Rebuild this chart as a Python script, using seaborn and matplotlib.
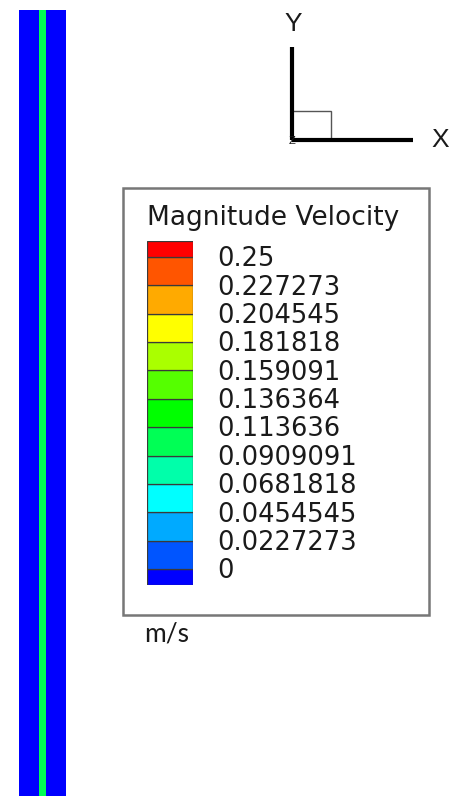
import numpy as np
import matplotlib
matplotlib.use("Agg")
import matplotlib.pyplot as plt
from matplotlib.patches import Rectangle
import seaborn as sns

# ---------------- data ----------------
level_values = [0.0, 0.0227273, 0.0454545, 0.0681818, 0.0909091, 0.113636,
                0.136364, 0.159091, 0.181818, 0.204545, 0.227273, 0.25]
level_labels = ["0", "0.0227273", "0.0454545", "0.0681818", "0.0909091", "0.113636",
                "0.136364", "0.159091", "0.181818", "0.204545", "0.227273", "0.25"]
# contour band colours, bottom (lowest) to top (highest)
level_colors = ["#0000FF", "#0055FF", "#00AAFF", "#00FFFF", "#00FFAA", "#00FF55",
                "#00FF00", "#55FF00", "#AAFF00", "#FFFF00", "#FFAA00", "#FF5500", "#FF0000"]
# velocity magnitude across the pipe width (m/s)
pipe_profile = [0, 0, 0, 0, 0, 0.11, 0.11, 0, 0, 0, 0, 0]
legend_title = "Magnitude Velocity"
unit_label = "m/s"
axis_names = ["X", "Y", "Z"]

# ---------------- style ----------------
sns.set_style("white")
plt.rcParams["font.family"] = ["DejaVu Sans"]

W, H = 458, 796
fig = plt.figure(figsize=(W / 100, H / 100), dpi=100)


def px_axes(x0, y0, x1, y1):
    return fig.add_axes([x0 / W, 1 - y1 / H, (x1 - x0) / W, (y1 - y0) / H])


# overlay axes in pixel coordinates for annotations
ov = fig.add_axes([0, 0, 1, 1])
ov.set_xlim(0, W)
ov.set_ylim(H, 0)
ov.axis("off")

# ---------------- pipe contour (heatmap) ----------------
step = level_values[1] - level_values[0]
pax = px_axes(19, 10, 66, 796)
field = np.tile(np.array(pipe_profile, dtype=float), (40, 1))
band_index = np.clip(np.round(field / step), 0, len(level_colors) - 1)
sns.heatmap(band_index, ax=pax, cmap=matplotlib.colors.ListedColormap(level_colors),
            vmin=-0.5, vmax=len(level_colors) - 0.5, cbar=False,
            xticklabels=False, yticklabels=False)
pax.axis("off")

# ---------------- colour legend ----------------
ext = 0.55
n = len(level_colors)
bottoms = [-ext] + list(range(0, n - 1))
tops = [0] + list(range(1, n - 1)) + [n - 2 + ext]
heights = [t - b for t, b in zip(tops, bottoms)]
cax = px_axes(147, 241.4, 193, 584.6)
cax.bar([0.5] * n, heights, bottom=bottoms, width=1.0, color=level_colors,
        edgecolor="#3a3a3a", linewidth=0.9)
cax.set_xlim(0, 1)
cax.set_ylim(-ext, n - 2 + ext)
cax.axis("off")
txt = "#1a1a1a"
for k, lab in enumerate(level_labels):
    cax.text(1.52, k - 0.08, lab, ha="left", va="center", fontsize=18.5,
             color=txt, clip_on=False)

ov.add_patch(Rectangle((123, 188), 306, 427, fill=False, edgecolor="#777777", lw=1.8))
ov.text(147, 218, legend_title, ha="left", va="center", fontsize=19, color=txt)
ov.text(144, 634, unit_label, ha="left", va="center", fontsize=19, color=txt,
        family=["Lato", "DejaVu Sans"])

# ---------------- axis triad ----------------
ov.plot([292, 292], [47, 140], color="black", lw=3, solid_capstyle="butt")
ov.plot([292, 413], [140, 140], color="black", lw=3, solid_capstyle="butt")
ov.add_patch(Rectangle((292, 111), 39, 29, fill=False, edgecolor="#555555", lw=1.0))
ov.text(440, 140, axis_names[0], ha="center", va="center", fontsize=19, color=txt,
        family=["Liberation Sans", "DejaVu Sans"])
ov.text(293, 24, axis_names[1], ha="center", va="center", fontsize=19, color=txt,
        family=["Liberation Sans", "DejaVu Sans"])
ov.text(292, 141, axis_names[2], ha="center", va="center", fontsize=8, color=txt,
        family=["Liberation Sans", "DejaVu Sans"])

fig.savefig("out.png", dpi=100)
